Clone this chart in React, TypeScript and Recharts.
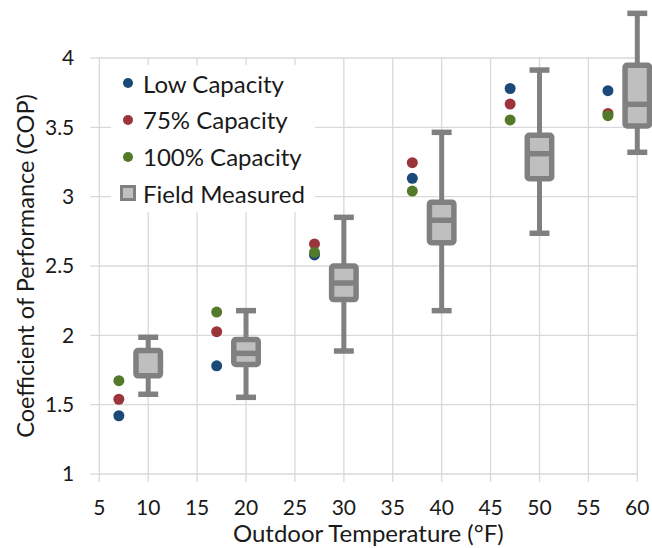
import {
  CartesianGrid,
  ComposedChart,
  ReferenceArea,
  ReferenceLine,
  Scatter,
  XAxis,
  YAxis,
} from "recharts";

// field measured boxes, one per 10 °F bin
const binTemps = [10, 20, 30, 40, 50, 60];
const whiskerLow = [1.575, 1.553, 1.887, 2.178, 2.736, 3.32];
const boxQ1 = [1.708, 1.79, 2.258, 2.668, 3.13, 3.51];
const boxMedian: (number | null)[] = [null, 1.87, 2.377, 2.83, 3.31, 3.666];
const boxQ3 = [1.89, 1.97, 2.5, 2.96, 3.443, 3.947];
const whiskerHigh = [1.986, 2.178, 2.851, 3.464, 3.913, 4.322];

// rated points
const ratedTemps = [7, 17, 27, 37, 47, 57];
const lowCap = [1.42, 1.78, 2.58, 3.132, 3.78, 3.764];
const cap75 = [1.539, 2.026, 2.659, 3.245, 3.668, 3.6];
const cap100 = [1.673, 2.168, 2.599, 3.04, 3.553, 3.584];

const xTicks = [5, 10, 15, 20, 25, 30, 35, 40, 45, 50, 55, 60];
const yTicks = [1, 1.5, 2, 2.5, 3, 3.5, 4];

const FONT = "Lato, 'Noto Sans', sans-serif";
const TEXT = "#1a1a1a";
const GRID = "#d9d9d9";
const BOX_STROKE = "#808080";
const BOX_FILL = "#bfbfbf";
const BOX_HALF = 1.25;
const CAP_HALF = 1.02;

const series = [
  { name: "Low Capacity", color: "#1c4a78", values: lowCap },
  { name: "75% Capacity", color: "#9b343b", values: cap75 },
  { name: "100% Capacity", color: "#527a2a", values: cap100 },
];

const toPoints = (vals: number[]) => ratedTemps.map((x, i) => ({ x, y: vals[i] }));

function Dot(color: string) {
  return (p: any) => <circle cx={p.cx} cy={p.cy} r={5.5} fill={color} />;
}

function LegendBox() {
  return (
    <div
      style={{
        position: "absolute",
        left: 111,
        top: 65,
        background: "#fff",
        width: 204,
        height: 147,
        fontFamily: FONT,
        fontSize: 24,
        color: TEXT,
      }}
    >
      {series.map((s) => (
        <div key={s.name} style={{ height: 36.67, display: "flex", alignItems: "center" }}>
          <span style={{ width: 10, height: 10, borderRadius: 5, background: s.color, marginLeft: 11.7, marginRight: 10.3 }} />
          <span>{s.name}</span>
        </div>
      ))}
      <div style={{ height: 36.67, display: "flex", alignItems: "center" }}>
        <span
          style={{
            boxSizing: "border-box",
            width: 16,
            height: 16,
            border: `3px solid ${BOX_STROKE}`,
            background: BOX_FILL,
            marginLeft: 8.7,
            marginRight: 7.3,
          }}
        />
        <span>Field Measured</span>
      </div>
    </div>
  );
}

export default function App() {
  return (
    <div style={{ position: "absolute", left: 0, top: 0, width: 652, height: 548, background: "#fff" }}>
      <ComposedChart width={652} height={548} margin={{ top: 58, right: 14.7, bottom: 0, left: 0 }}>
        <CartesianGrid stroke={GRID} strokeWidth={1.3} horizontalValues={yTicks} verticalValues={xTicks} />
        <XAxis
          type="number"
          dataKey="x"
          domain={[5, 60]}
          ticks={xTicks}
          interval={0}
          height={74}
          axisLine={false}
          tickLine={{ stroke: GRID, strokeWidth: 1.3 }}
          tickSize={8}
          tickMargin={18}
          tick={{ fontSize: 21, fill: TEXT, fontFamily: FONT }}
          label={{
            content: (p: any) => {
              const vb = p.viewBox || { x: 99.3, width: 538 };
              return (
                <text x={vb.x + vb.width / 2} y={542} textAnchor="middle" fontSize={24} fontFamily={FONT} fill={TEXT}>
                  Outdoor Temperature (°F)
                </text>
              );
            },
          }}
        />
        <YAxis
          type="number"
          dataKey="y"
          domain={[1, 4]}
          ticks={yTicks}
          interval={0}
          width={99.3}
          axisLine={false}
          tickLine={{ stroke: GRID, strokeWidth: 1.3 }}
          tickSize={9}
          tickMargin={16}
          tick={{ fontSize: 21, fill: TEXT, fontFamily: FONT }}
          label={{
            content: (p: any) => {
              const vb = p.viewBox || { y: 58, height: 416 };
              const cy = vb.y + vb.height / 2;
              return (
                <text
                  x={25}
                  y={cy}
                  transform={`rotate(-90, 25, ${cy})`}
                  textAnchor="middle"
                  dominantBaseline="central"
                  fontSize={23.5}
                  fontFamily={FONT}
                  fill={TEXT}
                >
                  Coefficient of Performance (COP)
                </text>
              );
            },
          }}
        />
        {binTemps.map((t, i) => (
          <ReferenceArea
            key={`box${t}`}
            x1={t - BOX_HALF}
            x2={t + BOX_HALF}
            y1={boxQ1[i]}
            y2={boxQ3[i]}
            ifOverflow="visible"
            shape={(p: any) => (
              <rect
                x={p.x}
                y={p.y}
                width={p.width}
                height={p.height}
                rx={2}
                fill={BOX_FILL}
                stroke={BOX_STROKE}
                strokeWidth={5.5}
              />
            )}
          />
        ))}
        {binTemps.map((t, i) => (
          <ReferenceLine
            key={`wh${t}`}
            segment={[{ x: t, y: boxQ3[i] }, { x: t, y: whiskerHigh[i] }]}
            stroke={BOX_STROKE}
            strokeWidth={5}
            ifOverflow="visible"
          />
        ))}
        {binTemps.map((t, i) => (
          <ReferenceLine
            key={`wl${t}`}
            segment={[{ x: t, y: whiskerLow[i] }, { x: t, y: boxQ1[i] }]}
            stroke={BOX_STROKE}
            strokeWidth={5}
            ifOverflow="visible"
          />
        ))}
        {binTemps.map((t, i) => (
          <ReferenceLine
            key={`ch${t}`}
            segment={[{ x: t - CAP_HALF, y: whiskerHigh[i] }, { x: t + CAP_HALF, y: whiskerHigh[i] }]}
            stroke={BOX_STROKE}
            strokeWidth={5.5}
            ifOverflow="visible"
          />
        ))}
        {binTemps.map((t, i) => (
          <ReferenceLine
            key={`cl${t}`}
            segment={[{ x: t - CAP_HALF, y: whiskerLow[i] }, { x: t + CAP_HALF, y: whiskerLow[i] }]}
            stroke={BOX_STROKE}
            strokeWidth={5.5}
            ifOverflow="visible"
          />
        ))}
        {binTemps.map((t, i) =>
          boxMedian[i] == null ? null : (
            <ReferenceLine
              key={`md${t}`}
              segment={[{ x: t - BOX_HALF, y: boxMedian[i] as number }, { x: t + BOX_HALF, y: boxMedian[i] as number }]}
              stroke={BOX_STROKE}
              strokeWidth={5.5}
              ifOverflow="visible"
            />
          )
        )}
        {series.map((s) => (
          <Scatter
            key={s.name}
            name={s.name}
            data={toPoints(s.values)}
            fill={s.color}
            shape={Dot(s.color)}
            isAnimationActive={false}
          />
        ))}
      </ComposedChart>
      <LegendBox />
    </div>
  );
}
